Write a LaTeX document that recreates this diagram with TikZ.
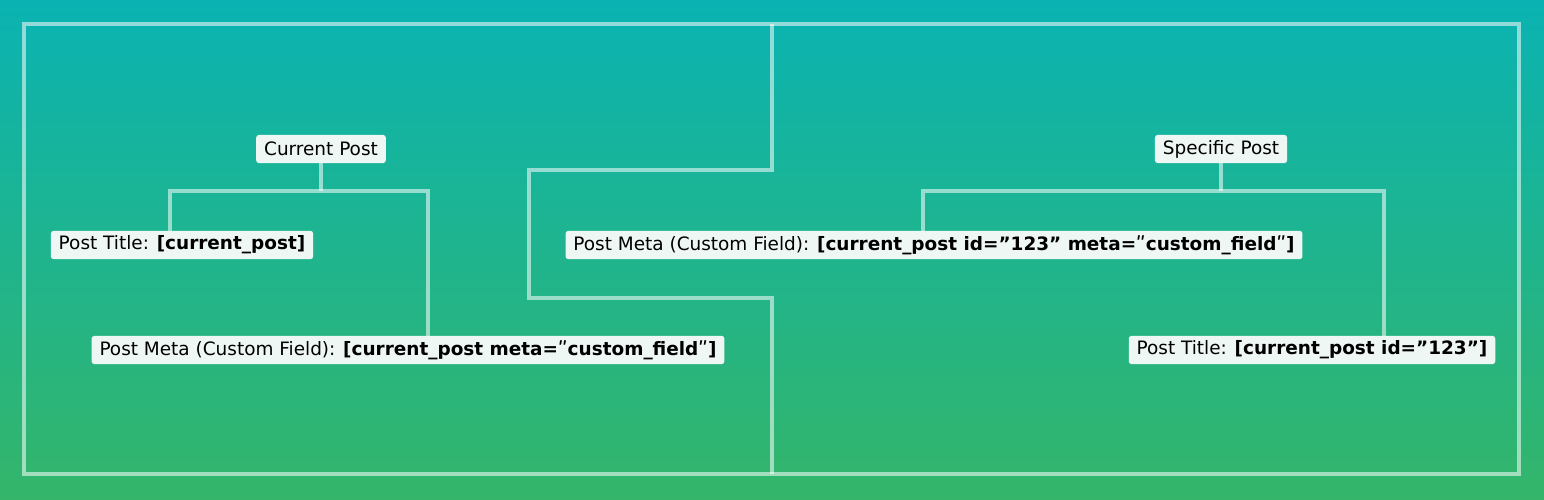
\documentclass[tikz,border=0pt]{standalone}
\usepackage{fontspec}
\setmainfont{DejaVu Sans}[Ligatures=ResetAll]
\definecolor{topteal}{HTML}{0AB3B2}
\definecolor{botgreen}{HTML}{34B56A}
\definecolor{boxfill}{HTML}{EEF7F3}
\newcommand{\sq}{{\addfontfeatures{Mapping=}\symbol{"22}}}
\tikzset{
  line/.style={line width=2.4pt,white,opacity=0.55},
  label box/.style={fill=boxfill,rounded corners=1.5pt,inner xsep=4.5pt,inner ysep=0pt,
    minimum height=16pt,font=\fontsize{10.5}{12}\selectfont,text=black},
}
\begin{document}
\begin{tikzpicture}[x=0.02cm,y=-0.02cm]
  \shade[top color=topteal,bottom color=botgreen] (0,0) rectangle (1544,500);
  \useasboundingbox (0,0) rectangle (1544,500);
  % frame and divider
  \draw[line] (24,24) rectangle (1519,474);
  \draw[line] (772,24) -- (772,170) -- (529,170) -- (529,298) -- (772,298) -- (772,474);
  % left side
  \node[label box] (cur) at (321,149) {Current Post};
  \node[label box] (cur title) at (182,245) {Post Title: \textbf{[current\_post]}};
  \node[label box] (cur meta) at (408,350) {Post Meta (Custom Field): \textbf{[current\_post meta=ʺcustom\_fieldʺ]}};
  \coordinate (cur joint) at (321,191);
  \draw[line] (cur) -- (cur joint);
  \draw[line] (cur title.north -| 170,0) |- (cur joint) -| (cur meta.north -| 428,0);
  % right side
  \node[label box] (spec) at (1221,149) {Specific Post};
  \node[label box] (spec meta) at (934,245) {Post Meta (Custom Field): \textbf{[current\_post id=”123” meta=ʺcustom\_fieldʺ]}};
  \node[label box] (spec title) at (1312,350) {Post Title: \textbf{[current\_post id=”123”]}};
  \coordinate (spec joint) at (1221,191);
  \draw[line] (spec) -- (spec joint);
  \draw[line] (spec meta.north -| 923,0) |- (spec joint) -| (spec title.north -| 1384,0);
\end{tikzpicture}
\end{document}
